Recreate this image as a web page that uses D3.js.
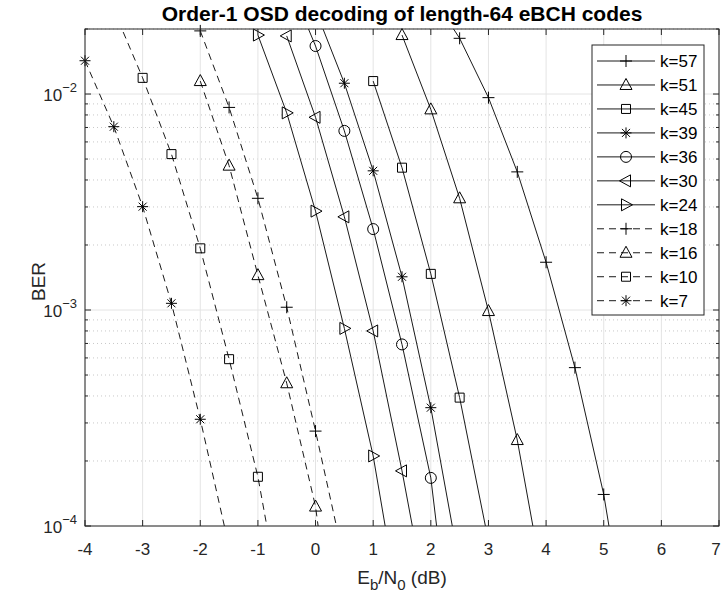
<!DOCTYPE html>
<html><head><meta charset="utf-8">
<script src="https://cdn.jsdelivr.net/npm/d3@7"></script>
<style>
body{margin:0;background:#fff;}
svg{display:block;font-family:"Liberation Sans",Arial,Helvetica,sans-serif;}
</style></head>
<body><svg id="c" width="722" height="599"></svg>
<script>
// ---- data ----
const seriesNames = ["k=57","k=51","k=45","k=39","k=36","k=30","k=24","k=18","k=16","k=10","k=7"];
const snr57 = [2.0, 2.5, 3.0, 3.5, 4.0, 4.5, 5.0, 5.5];
const ber57 = [0.029, 0.01811, 0.00962, 0.00436, 0.001664, 5.41e-4, 1.40e-4, 2.2e-5];
const snr51 = [1.5, 2.0, 2.5, 3.0, 3.5, 4.0];
const ber51 = [0.01875, 0.00849, 0.00329, 9.89e-4, 2.5e-4, 4.6e-5];
const snr45 = [1.0, 1.5, 2.0, 2.5, 3.0];
const ber45 = [0.01148, 0.00456, 0.00147, 3.93e-4, 8.5e-5];
const snr39 = [0.0, 0.5, 1.0, 1.5, 2.0, 2.5];
const ber39 = [0.0245, 0.01122, 0.00441, 0.001425, 3.53e-4, 6.5e-5];
const snr36 = [-0.5, 0.0, 0.5, 1.0, 1.5, 2.0, 2.5];
const ber36 = [0.035, 0.01668, 0.00675, 0.00237, 6.93e-4, 1.67e-4, 1.3e-5];
const snr30 = [-0.5, 0.0, 0.5, 1.0, 1.5, 2.0];
const ber30 = [0.01858, 0.0078, 0.0027, 8.0e-4, 1.80e-4, 3.5e-5];
const snr24 = [-1.0, -0.5, 0.0, 0.5, 1.0, 1.5];
const ber24 = [0.01875, 0.00818, 0.00287, 8.22e-4, 2.11e-4, 3.5e-5];
const snr18 = [-2.0, -1.5, -1.0, -0.5, 0.0, 0.5];
const ber18 = [0.0196, 0.00867, 0.00329, 0.00103, 2.75e-4, 6.8e-5];
const snr16 = [-2.0, -1.5, -1.0, -0.5, 0.0, 0.5];
const ber16 = [0.01148, 0.00466, 0.00145, 4.58e-4, 1.23e-4, 1.2e-5];
const snr10 = [-3.5, -3.0, -2.5, -2.0, -1.5, -1.0, -0.5];
const ber10 = [0.0245, 0.01188, 0.00527, 0.00193, 5.92e-4, 1.69e-4, 3.1e-5];
const snr7 = [-4.0, -3.5, -3.0, -2.5, -2.0, -1.5];
const ber7 = [0.01426, 0.00706, 0.00301, 0.001074, 3.12e-4, 8.0e-5];
const xTicks = [-4,-3,-2,-1,0,1,2,3,4,5,6,7];
const yDecades = [-4,-3,-2];
const titleText = "Order-1 OSD decoding of length-64 eBCH codes";

const series = [
  {name:"k=57", x:snr57, y:ber57, m:"plus", dash:false},
  {name:"k=51", x:snr51, y:ber51, m:"tri", dash:false},
  {name:"k=45", x:snr45, y:ber45, m:"square", dash:false},
  {name:"k=39", x:snr39, y:ber39, m:"star", dash:false},
  {name:"k=36", x:snr36, y:ber36, m:"circle", dash:false},
  {name:"k=30", x:snr30, y:ber30, m:"left", dash:false},
  {name:"k=24", x:snr24, y:ber24, m:"right", dash:false},
  {name:"k=18", x:snr18, y:ber18, m:"plus", dash:true},
  {name:"k=16", x:snr16, y:ber16, m:"tri", dash:true},
  {name:"k=10", x:snr10, y:ber10, m:"square", dash:true},
  {name:"k=7",  x:snr7,  y:ber7,  m:"star", dash:true}
];

// ---- layout ----
const L=85, R=719, T=29, B=526;
const svg = d3.select("#c");
const x = d3.scaleLinear().domain([-4,7]).range([L,R]);
const y = d3.scaleLog().domain([1e-4,0.02]).range([B,T]);
const axCol = "#262626";

svg.append("defs").append("clipPath").attr("id","clip")
  .append("rect").attr("x",L).attr("y",T).attr("width",R-L).attr("height",B-T);

// minor grid (dotted)
const minorVals = [];
yDecades.forEach(e=>{ for(let m=2;m<=9;m++){ const v=m*Math.pow(10,e); if(v<=0.02) minorVals.push(v);} });
svg.append("g").selectAll("line").data(minorVals).join("line")
  .attr("x1",L).attr("x2",R).attr("y1",d=>y(d)).attr("y2",d=>y(d))
  .attr("stroke","#c8c8c8").attr("stroke-width",1).attr("stroke-dasharray","1,3");
// major grid
svg.append("g").selectAll("line").data(xTicks).join("line")
  .attr("x1",d=>x(d)).attr("x2",d=>x(d)).attr("y1",T).attr("y2",B)
  .attr("stroke","#e4e4e4").attr("stroke-width",1);
svg.append("g").selectAll("line").data(yDecades).join("line")
  .attr("x1",L).attr("x2",R).attr("y1",d=>y(Math.pow(10,d))).attr("y2",d=>y(Math.pow(10,d)))
  .attr("stroke","#e4e4e4").attr("stroke-width",1);

// markers
function markerPath(m){
  switch(m){
    case "plus": return "M-6,0H6M0,-6V6";
    case "star": return "M-5.5,0H5.5M0,-5.5V5.5M-4,-4L4,4M-4,4L4,-4";
    case "tri": return "M0,-6.5L6,4.5L-6,4.5Z";
    case "left": return "M-6.5,0L4.5,-6L4.5,6Z";
    case "right": return "M6.5,0L-4.5,-6L-4.5,6Z";
    case "square": return "M-4.5,-4.5H4.5V4.5H-4.5Z";
    case "circle": return "M5.5,0A5.5,5.5 0 1,1 -5.5,0A5.5,5.5 0 1,1 5.5,0Z";
  }
}

const line = d3.line().x(d=>x(d[0])).y(d=>y(d[1]));
const gLines = svg.append("g").attr("clip-path","url(#clip)");
series.forEach(s=>{
  const pts = s.x.map((v,i)=>[v,s.y[i]]);
  gLines.append("path").datum(pts).attr("d",line)
    .attr("fill","none").attr("stroke","#1a1a1a").attr("stroke-width",1)
    .attr("stroke-dasharray", s.dash ? "7,5" : null);
  svg.append("g").selectAll("path").data(pts.filter(p=>p[1]>=1e-4 && p[1]<=0.02 && p[0]>=-4 && p[0]<=7)).join("path")
    .attr("transform",p=>`translate(${x(p[0])},${y(p[1])})`)
    .attr("d",markerPath(s.m)).attr("fill","none").attr("stroke","#000").attr("stroke-width",1);
});

// axes box
svg.append("rect").attr("x",L).attr("y",T).attr("width",R-L).attr("height",B-T)
  .attr("fill","none").attr("stroke",axCol).attr("stroke-width",1);

// x ticks
const gx = svg.append("g");
xTicks.forEach(t=>{
  gx.append("line").attr("x1",x(t)).attr("x2",x(t)).attr("y1",B).attr("y2",B-6).attr("stroke",axCol);
  gx.append("line").attr("x1",x(t)).attr("x2",x(t)).attr("y1",T).attr("y2",T+6).attr("stroke",axCol);
  gx.append("text").attr("x",Math.min(x(t), 716)).attr("y",B+29).attr("text-anchor","middle")
    .attr("font-size",17).attr("fill",axCol).text(t);
});
// y ticks
const gy = svg.append("g");
yDecades.forEach(e=>{
  const yy = y(Math.pow(10,e));
  gy.append("line").attr("x1",L).attr("x2",L+6).attr("y1",yy).attr("y2",yy).attr("stroke",axCol);
  gy.append("line").attr("x1",R).attr("x2",R-6).attr("y1",yy).attr("y2",yy).attr("stroke",axCol);
  const t = gy.append("text").attr("x",L-8).attr("y",yy+7).attr("text-anchor","end")
    .attr("font-size",17).attr("fill",axCol);
  t.append("tspan").text("10");
  t.append("tspan").attr("dy",-9).attr("font-size",13).text("\u2212" + Math.abs(e));
});
minorVals.forEach(v=>{
  gy.append("line").attr("x1",L).attr("x2",L+3).attr("y1",y(v)).attr("y2",y(v)).attr("stroke",axCol);
  gy.append("line").attr("x1",R).attr("x2",R-3).attr("y1",y(v)).attr("y2",y(v)).attr("stroke",axCol);
});

// labels
svg.append("text").attr("x",(L+R)/2-0).attr("y",21).attr("text-anchor","middle")
  .attr("font-size",21).attr("font-weight","bold").attr("fill","#000").text(titleText);
svg.append("text").attr("transform",`translate(45,${(T+B)/2+4}) rotate(-90)`).attr("text-anchor","middle")
  .attr("font-size",19).attr("fill",axCol).text("BER");
const xl = svg.append("text").attr("x",(L+R)/2).attr("y",584).attr("text-anchor","middle")
  .attr("font-size",19).attr("fill",axCol);
xl.append("tspan").text("E");
xl.append("tspan").attr("font-size",15).attr("dy",6).text("b");
xl.append("tspan").attr("dy",-6).text("/N");
xl.append("tspan").attr("font-size",15).attr("dy",6).text("0");
xl.append("tspan").attr("dy",-6).text(" (dB)");

// legend
const lg = svg.append("g");
const lx=592, ly=45, lw=112, lh=270;
lg.append("rect").attr("x",lx).attr("y",ly).attr("width",lw).attr("height",lh)
  .attr("fill","#fff").attr("stroke",axCol).attr("stroke-width",1);
series.forEach((s,i)=>{
  const yy = 61 + i*23.97;
  lg.append("line").attr("x1",597).attr("x2",655).attr("y1",yy).attr("y2",yy)
    .attr("stroke","#1a1a1a").attr("stroke-width",1).attr("stroke-dasharray", s.dash ? "7,5" : null);
  lg.append("path").attr("transform",`translate(626,${yy})`).attr("d",markerPath(s.m))
    .attr("fill","none").attr("stroke","#000");
  lg.append("text").attr("x",660).attr("y",yy+6).attr("font-size",17).attr("fill","#000").text(s.name);
});
</script></body></html>
